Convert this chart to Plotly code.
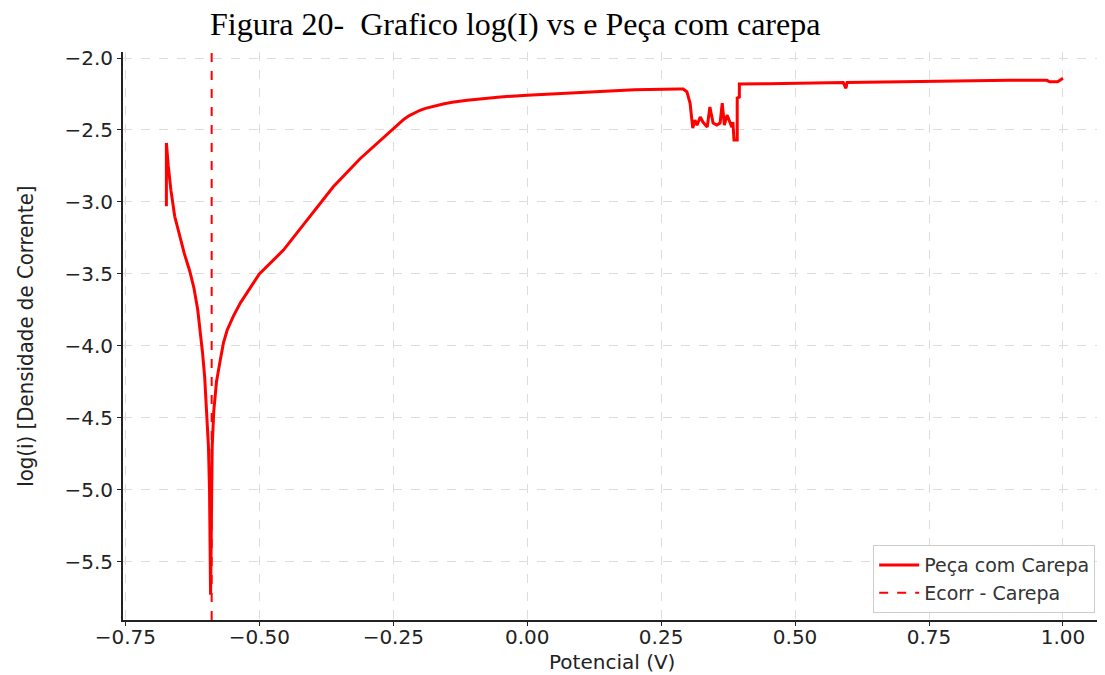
import plotly.graph_objects as go

# Potential (V) and log(i)
potencial = [
    -0.6735, -0.6735, -0.670, -0.665, -0.658, -0.650, -0.640, -0.630, -0.622, -0.615,
    -0.610, -0.606, -0.602, -0.598, -0.595, -0.593, -0.5915, -0.591,
    -0.590, -0.5895, -0.588, -0.585, -0.580, -0.573, -0.567, -0.560, -0.548, -0.535,
    -0.500, -0.455, -0.405, -0.362, -0.312, -0.280, -0.250, -0.240, -0.230, -0.220,
    -0.210, -0.200, -0.190, -0.175, -0.155, -0.140, -0.112, -0.050, 0.000, 0.100,
    0.200, 0.282,
    0.291, 0.298, 0.304, 0.309, 0.313, 0.317, 0.323, 0.328, 0.336, 0.341, 0.347,
    0.354, 0.360, 0.364, 0.368, 0.373, 0.377, 0.382, 0.384, 0.386, 0.392, 0.392,
    0.396, 0.396,
    0.450, 0.550, 0.590, 0.595, 0.597, 0.700, 0.800, 0.900, 0.970, 0.975, 0.990,
    0.995, 1.000,
]
log_i = [
    -3.03, -2.59, -2.75, -2.92, -3.10, -3.22, -3.36, -3.48, -3.60, -3.75,
    -3.90, -4.05, -4.22, -4.45, -4.70, -5.00, -5.40, -5.73,
    -5.40, -5.00, -4.70, -4.45, -4.25, -4.10, -3.98, -3.89, -3.79, -3.70,
    -3.50, -3.335, -3.10, -2.895, -2.70, -2.59, -2.49, -2.455, -2.425, -2.40,
    -2.38, -2.363, -2.35, -2.335, -2.318, -2.308, -2.293, -2.27, -2.258, -2.24,
    -2.22, -2.216,
    -2.216, -2.234, -2.313, -2.487, -2.431, -2.466, -2.41, -2.445, -2.48, -2.34, -2.452,
    -2.466, -2.452, -2.313, -2.466, -2.396, -2.431, -2.48, -2.445, -2.57, -2.57, -2.278,
    -2.271, -2.181,
    -2.178, -2.172, -2.170, -2.21, -2.170, -2.165, -2.158, -2.155, -2.155, -2.165, -2.165,
    -2.155, -2.14,
]
ecorr = -0.589

x_ticks = [-0.75, -0.50, -0.25, 0.00, 0.25, 0.50, 0.75, 1.00]
x_labels = ["\u22120.75", "\u22120.50", "\u22120.25", "0.00", "0.25", "0.50", "0.75", "1.00"]
y_ticks = [-2.0, -2.5, -3.0, -3.5, -4.0, -4.5, -5.0, -5.5]
y_labels = ["\u22122.0", "\u22122.5", "\u22123.0", "\u22123.5", "\u22124.0", "\u22124.5", "\u22125.0", "\u22125.5"]

x_range = [-0.7545, 1.0785]
y_range = [-5.906, -1.958]

fig = go.Figure()
fig.add_trace(go.Scatter(
    x=potencial, y=log_i, mode="lines", name="Peça com Carepa",
    line=dict(color="#ff0000", width=3),
))
fig.add_trace(go.Scatter(
    x=[ecorr, ecorr], y=y_range, mode="lines", name="Ecorr - Carepa",
    line=dict(color="#ff0000", width=2, dash="dash"),
))

tick_font = dict(family="DejaVu Sans", size=20, color="#222222")
fig.update_layout(
    width=1105, height=675,
    margin=dict(l=115, r=8, t=44, b=63, autoexpand=False),
    paper_bgcolor="white", plot_bgcolor="white",
    title=dict(
        text="Figura 20-  Grafico log(I) vs e Peça com carepa",
        font=dict(family="Liberation Serif", size=32, color="black"),
        x=0.459, xanchor="center", y=0.976, yanchor="middle",
    ),
    legend=dict(
        x=0.99, y=0.012, xanchor="right", yanchor="bottom",
        bgcolor="rgba(255,255,255,0.9)", bordercolor="#cccccc", borderwidth=1,
        font=dict(family="DejaVu Sans", size=19, color="#333333"),
        itemwidth=40,
    ),
    xaxis=dict(
        range=x_range, tickvals=x_ticks, ticktext=x_labels, tickfont=tick_font,
        showgrid=True, gridcolor="#dddddd", griddash="dash", gridwidth=1,
        showline=True, linecolor="#222222", linewidth=2, zeroline=False,
        ticks="outside", ticklen=4, tickcolor="#222222", automargin=False,
        ticklabelstandoff=-6,
    ),
    yaxis=dict(
        range=y_range, tickvals=y_ticks, ticktext=y_labels, tickfont=tick_font,
        showgrid=True, gridcolor="#dddddd", griddash="dash", gridwidth=1,
        showline=True, linecolor="#222222", linewidth=2, zeroline=False,
        ticks="outside", ticklen=4, tickcolor="#222222", automargin=False,
    ),
    annotations=[
        dict(text="Potencial (V)", xref="paper", yref="paper", x=0.498, y=-0.074,
             xanchor="center", yanchor="middle", showarrow=False,
             font=dict(family="DejaVu Sans", size=20, color="#222222")),
        dict(text="log(i) [Densidade de Corrente]", xref="paper", yref="paper",
             x=-0.1, y=0.5, xanchor="center", yanchor="middle", showarrow=False,
             textangle=-90,
             font=dict(family="DejaVu Sans Condensed", size=22, color="#222222")),
    ],
)

fig.write_html("out.html")
